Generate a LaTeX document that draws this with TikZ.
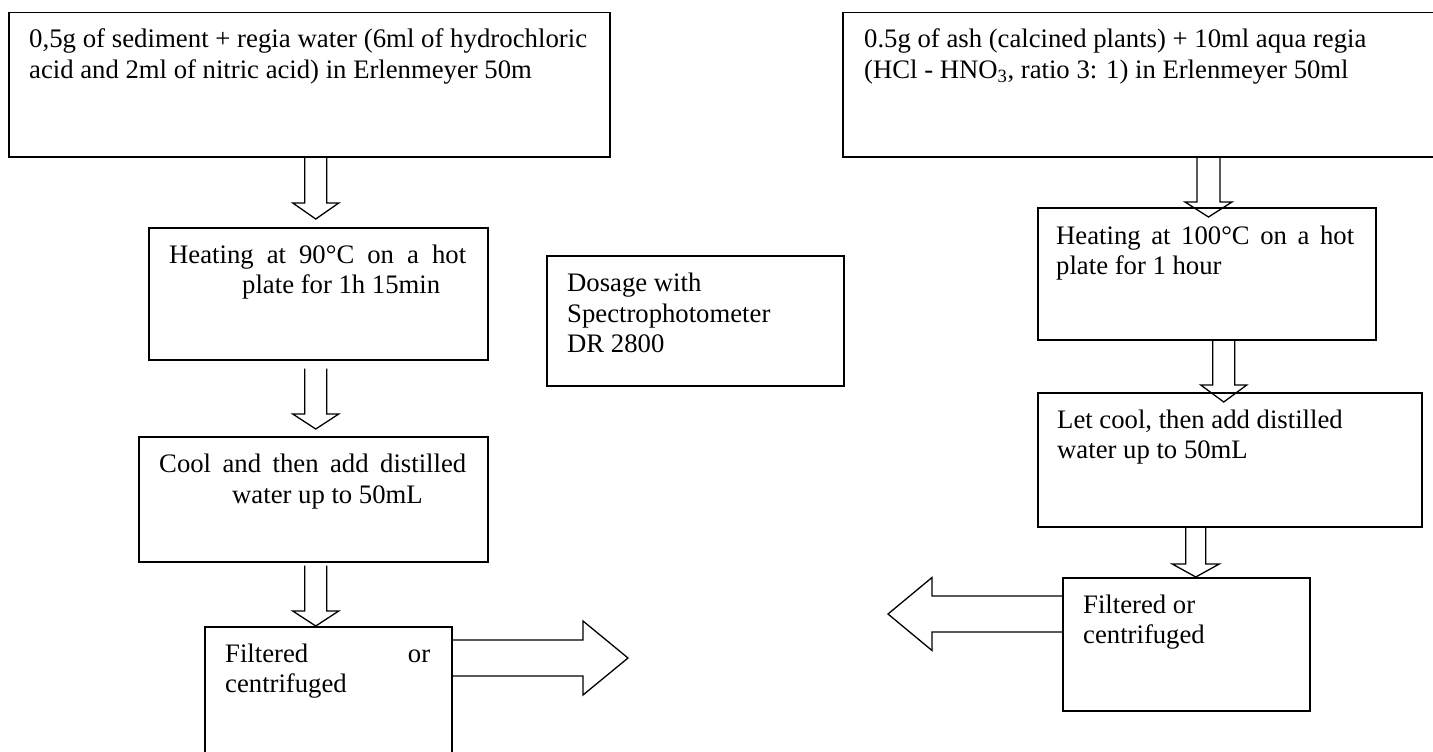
\documentclass[tikz,border=0pt]{standalone}
\usepackage{graphicx}
\usepackage{fontspec}
\setmainfont{Liberation Serif}
\usetikzlibrary{calc}
\tikzset{
  box/.style={draw, line width=1.5pt, rectangle, inner sep=0pt, anchor=north west},
  txt/.style={anchor=base west, inner sep=0pt, font=\fontsize{26.7}{30.7}\selectfont},
  blk/.style={draw, line width=1.3pt, line join=miter}
}
\newcommand\blkdown[5]{%
  \draw[blk] let \p1=(#1), \p2=(#2) in
   (\x1-#3pt,\y1) -- (\x1-#3pt,\y2+#5pt) -- (\x1-#4pt,\y2+#5pt) -- (\x1,\y2)
   -- (\x1+#4pt,\y2+#5pt) -- (\x1+#3pt,\y2+#5pt) -- (\x1+#3pt,\y1);}
\newcommand\blkright[5]{%
  \draw[blk] let \p1=(#1), \p2=(#2) in
   (\x1,\y1+#3pt) -- (\x2-#5pt,\y1+#3pt) -- (\x2-#5pt,\y1+#4pt) -- (\x2,\y1)
   -- (\x2-#5pt,\y1-#4pt) -- (\x2-#5pt,\y1-#3pt) -- (\x1,\y1-#3pt);}
\newcommand\blkleft[5]{%
  \draw[blk] let \p1=(#1), \p2=(#2) in
   (\x1,\y1+#3pt) -- (\x2+#5pt,\y1+#3pt) -- (\x2+#5pt,\y1+#4pt) -- (\x2,\y1)
   -- (\x2+#5pt,\y1-#4pt) -- (\x2+#5pt,\y1-#3pt) -- (\x1,\y1-#3pt);}
\begin{document}
\begin{tikzpicture}[x=1pt,y=-1pt]
\useasboundingbox (0,0) rectangle (1433,752);
\clip (0,0) rectangle (1433,752);
\fill[white] (0,0) rectangle (1433,752);

% left column boxes
\node[box, minimum width=601pt, minimum height=144pt] (b1) at (8,12) {};
\node[box, minimum width=339pt, minimum height=132pt] (b2) at (148,227) {};
\node[box, minimum width=349pt, minimum height=125pt] (b3) at (138,436) {};
\node[box, minimum width=247pt, minimum height=150pt] (b4) at (204,626) {};
\node[box, minimum width=297pt, minimum height=130pt] (dos) at (546,255) {};
% right column boxes
\node[box, minimum width=620pt, minimum height=144pt] (b5) at (842,12) {};
\node[box, minimum width=338pt, minimum height=132pt] (b6) at (1037,207) {};
\node[box, minimum width=384pt, minimum height=134pt] (b7) at (1037,392) {};
\node[box, minimum width=247pt, minimum height=133pt] (b8) at (1062,577) {};

% texts
\node[txt] (t1a) at (29,48) {\resizebox{558pt}{!}{0,5g of sediment + regia water (6ml of hydrochloric}};
\node[txt] (t1b) at (29,79) {acid and 2ml of nitric acid) in Erlenmeyer 50m};
\node[txt] (t2a) at (169,263) {\makebox[297pt][s]{Heating at 90°C on a hot}};
\node[txt] (t2b) at (242,293) {plate for 1h 15min};
\node[txt] (t3a) at (159,472) {\makebox[307pt][s]{Cool and then add distilled}};
\node[txt] (t3b) at (232,503) {water up to 50mL};
\node[txt] (t4a) at (225,662) {\makebox[205pt][s]{Filtered or}};
\node[txt] (t4b) at (225,692) {centrifuged};
\node[txt] (tda) at (567,291) {Dosage with};
\node[txt] (tdb) at (567,322) {Spectrophotometer};
\node[txt] (tdc) at (567,352) {DR 2800};
\node[txt] (t5a) at (864,48) {0.5g of ash (calcined plants) + 10ml aqua regia};
\node[txt] (t5b) at (864,79) {(HCl - HNO\textsubscript{3}, ratio 3: 1) in Erlenmeyer 50ml};
\node[txt] (t6a) at (1056,244) {\makebox[298pt][s]{Heating at 100°C on a hot}};
\node[txt] (t6b) at (1056,274) {plate for 1 hour};
\node[txt] (t7a) at (1057,428) {Let cool, then add distilled};
\node[txt] (t7b) at (1057,458) {water up to 50mL};
\node[txt] (t8a) at (1083,613) {Filtered or};
\node[txt] (t8b) at (1083,643) {centrifuged};

% arrow anchor coordinates
\coordinate (a1s) at ([xshift=6.5pt]b1.south);
\coordinate (a1e) at ([yshift=8pt]b2.north);
\coordinate (a2s) at ([xshift=-2.5pt,yshift=-8pt]b2.south);
\coordinate (a2e) at ([yshift=7pt]b3.north);
\coordinate (a3s) at ([xshift=2.5pt,yshift=-3pt]b3.south);
\coordinate (a3e) at (b4.north);
\coordinate (r1s) at ([xshift=366.5pt]b5.south west);
\coordinate (r1e) at ([yshift=-10pt]b6.north);
\coordinate (r2s) at ([xshift=17pt]b6.south);
\coordinate (r2e) at ([yshift=-10pt]b7.north);
\coordinate (r3s) at ([xshift=-34pt]b7.south);
\coordinate (r3e) at (b8.north);
\coordinate (hrs) at ([yshift=-32pt]b4.north east);
\coordinate (hre) at (628,658);
\coordinate (hls) at ([yshift=-37pt]b8.north west);
\coordinate (hle) at (888,614);

\blkdown{a1s}{a1e}{11}{23}{16}
\blkdown{a2s}{a2e}{11}{23}{15}
\blkdown{a3s}{a3e}{11}{23}{15}
\blkdown{r1s}{r1e}{11.5}{23.5}{15}
\blkdown{r2s}{r2e}{11}{23}{17}
\blkdown{r3s}{r3e}{10}{23.5}{13}
\blkright{hrs}{hre}{18}{37}{45}
\blkleft{hls}{hle}{18}{36.5}{44}
\end{tikzpicture}
\end{document}
